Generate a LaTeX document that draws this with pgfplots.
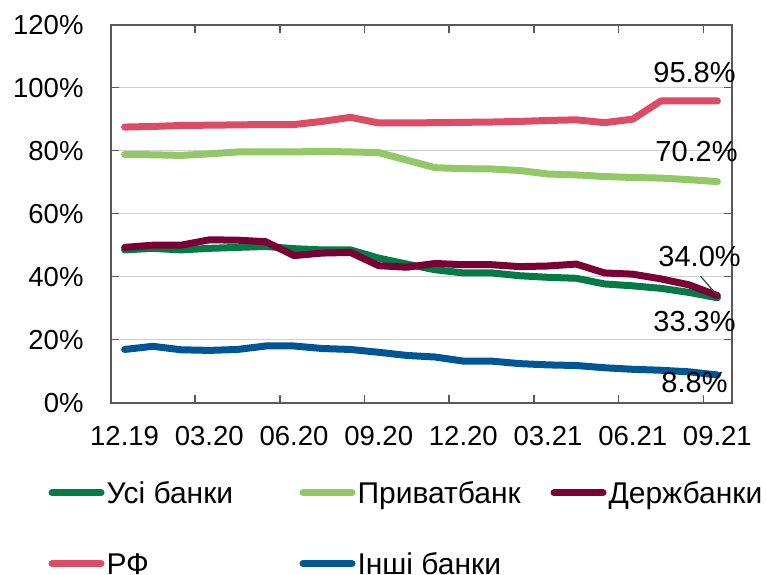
\documentclass[border=0pt]{standalone}
\usepackage{fontspec}
\setmainfont{Liberation Sans}
\usepackage{pgfplots}
\pgfplotsset{compat=1.18}
\definecolor{cAll}{HTML}{047B45}
\definecolor{cPriv}{HTML}{92C865}
\definecolor{cDerzh}{HTML}{7B0035}
\definecolor{cRF}{HTML}{DC4C65}
\definecolor{cOther}{HTML}{005694}
\definecolor{axisgray}{HTML}{595959}
\definecolor{gridgray}{HTML}{D0D0D0}
\definecolor{leadgray}{HTML}{404040}
\pgfplotstableread{
i all priv derzh rf other
0 48.5 78.8 49.3 87.5 16.9
1 49.0 78.7 50.0 87.7 17.9
2 48.5 78.5 50.0 88.0 16.8
3 49.0 79.0 51.7 88.1 16.6
4 49.3 79.6 51.6 88.2 16.9
5 49.6 79.6 51.1 88.3 18.0
6 48.9 79.6 46.7 88.3 18.0
7 48.5 79.8 47.5 89.3 17.2
8 48.5 79.6 47.7 90.6 16.9
9 45.9 79.4 43.5 88.8 16.0
10 44.0 77.0 43.0 88.8 15.0
11 42.2 74.6 44.2 88.9 14.5
12 41.2 74.3 43.8 89.0 13.2
13 41.2 74.2 43.8 89.1 13.2
14 40.3 73.7 43.2 89.3 12.4
15 39.8 72.6 43.4 89.6 12.0
16 39.5 72.3 44.0 89.8 11.8
17 37.7 71.8 41.2 88.9 11.1
18 37.1 71.5 40.8 90.0 10.6
19 36.3 71.3 39.3 95.8 10.3
20 35.0 70.8 37.4 95.8 9.8
21 33.3 70.2 34.0 95.8 8.8
}\datatable
\begin{document}
\begin{tikzpicture}
\path[use as bounding box] (0,0) rectangle (766pt,575pt);
\begin{axis}[
  at={(110.5pt,172.3pt)}, anchor=south west,
  width=621pt, height=378pt, scale only axis,
  xmin=-0.5, xmax=21.5, ymin=0, ymax=120,
  xtick={0,3,...,21},
  xticklabels={12.19,03.20,06.20,09.20,12.20,03.21,06.21,09.21},
  minor xtick={2.5,5.5,...,20.5},
  ytick={0,20,...,120},
  yticklabel={\pgfmathprintnumber{\tick}\%},
  /pgf/number format/assume math mode=true,
  tick align=inside,
  major tick length=8pt, minor tick length=8pt,
  tick style={draw=axisgray, line width=1.5pt},
  major x tick style={draw=none},
  axis line style={draw=axisgray, line width=2pt},
  ymajorgrids, grid style={draw=gridgray, line width=1pt},
  tick label style={font=\fontsize{27.5}{32}\selectfont, inner sep=0pt, outer sep=0pt},
  yticklabel style={anchor=east, xshift=-27pt},
  xticklabel style={anchor=north, yshift=-24pt},
  legend style={at={(axis description cs:-0.0998,-0.1984)}, anchor=north west,
    draw=none, fill=none, inner sep=0pt, outer sep=0pt,
    row sep=41pt, font=\fontsize{30}{35}\selectfont,
    nodes={inner sep=0pt, outer sep=0pt, text height=26pt, text depth=4pt},
    /tikz/every odd column/.append style={column sep=2pt}},
  legend columns=3,
  legend cell align=left,
  legend image code/.code={\draw[#1, line cap=round] (0pt,0pt) -- (49pt,0pt); \path[draw=none, fill=none] (-3.5pt,-3.5pt) rectangle (52.5pt,3.5pt);},
  clip=false,
]
\tikzset{ser/.style={line width=7pt, line cap=round, line join=round, mark=none}}
\addplot[ser, color=cAll] table[x=i, y=all] {\datatable};
\addlegendentry{\makebox[193pt][l]{Усі банки}}
\addplot[ser, color=cPriv] table[x=i, y=priv] {\datatable};
\addlegendentry{\makebox[193pt][l]{Приватбанк}}
\addplot[ser, color=cDerzh] table[x=i, y=derzh] {\datatable};
\addlegendentry{\makebox[193pt][l]{Держбанки}}
\addplot[ser, color=cRF] table[x=i, y=rf] {\datatable};
\addlegendentry{\makebox[193pt][l]{РФ}}
\addplot[ser, color=cOther] table[x=i, y=other] {\datatable};
\addlegendentry{\makebox[193pt][l]{Інші банки}}
\draw[draw=leadgray, line width=1.2pt] (axis cs:20.40,40.2) -- (axis cs:20.96,34.4);
\node[font=\fontsize{29}{34}\selectfont, inner sep=0pt] at (axis cs:20.19,104.9) {95.8\%};
\node[font=\fontsize{29}{34}\selectfont, inner sep=0pt] at (axis cs:20.26,79.7) {70.2\%};
\node[font=\fontsize{29}{34}\selectfont, inner sep=0pt] at (axis cs:20.37,46.4) {34.0\%};
\node[font=\fontsize{29}{34}\selectfont, inner sep=0pt] at (axis cs:20.19,25.8) {33.3\%};
\node[font=\fontsize{29}{34}\selectfont, inner sep=0pt] at (axis cs:20.19,6.3) {8.8\%};
\end{axis}
\end{tikzpicture}
\end{document}
